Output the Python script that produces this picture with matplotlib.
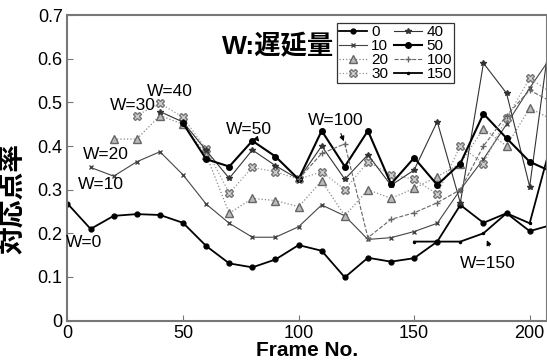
import numpy as np
import matplotlib
matplotlib.use("Agg")
import matplotlib.pyplot as plt

plt.rcParams["font.family"] = ["Liberation Sans", "Noto Sans CJK JP", "DejaVu Sans"]

# フレーム番号 (10 フレーム毎)。遅延量 W の系列は frame = W から始まる
frames = np.arange(0, 220, 10)

w0 = [0.268, 0.21, 0.24, 0.244, 0.242, 0.224, 0.171, 0.131, 0.122, 0.140, 0.173,
      0.160, 0.099, 0.144, 0.135, 0.143, 0.181, 0.265, 0.224, 0.246, 0.205, 0.22]
w10 = [0.351, 0.331, 0.364, 0.387, 0.334, 0.267, 0.223, 0.191, 0.191, 0.215, 0.265,
       0.24, 0.186, 0.19, 0.204, 0.223, 0.30, 0.37, 0.45, 0.533, 0.61]
w20 = [0.416, 0.416, 0.47, 0.45, 0.38, 0.246, 0.28, 0.275, 0.261, 0.32, 0.24,
       0.30, 0.28, 0.303, 0.33, 0.36, 0.44, 0.40, 0.487, 0.46]
w30 = [0.47, 0.498, 0.466, 0.393, 0.292, 0.351, 0.341, 0.324, 0.341, 0.30, 0.364,
       0.334, 0.324, 0.29, 0.40, 0.36, 0.464, 0.555, 0.52]
w40 = [0.479, 0.455, 0.39, 0.326, 0.391, 0.355, 0.324, 0.40, 0.324, 0.38, 0.31,
       0.345, 0.456, 0.27, 0.59, 0.521, 0.307, 0.70]
w50 = [0.452, 0.37, 0.353, 0.412, 0.376, 0.324, 0.435, 0.353, 0.435, 0.313, 0.373,
       0.311, 0.36, 0.474, 0.418, 0.364, 0.34]
w100 = [0.324, 0.383, 0.405, 0.19, 0.232, 0.247, 0.27, 0.30, 0.40, 0.47, 0.528, 0.50]
w150 = [0.181, 0.181, 0.181, 0.20, 0.246, 0.223, 0.42]

series = [
    ("0", 0, w0, dict(color="black", lw=1.3, marker="o", ms=3.5)),
    ("10", 10, w10, dict(color="#444444", lw=0.8, marker="x", ms=3.5)),
    ("20", 20, w20, dict(color="#888888", lw=0.9, ls=":", marker="^", ms=6,
                         mfc="#bbbbbb", mec="#666666")),
    ("30", 30, w30, dict(color="#999999", lw=0.9, ls=":", marker="X", ms=6,
                         mfc="#cccccc", mec="#777777")),
    ("40", 40, w40, dict(color="#333333", lw=0.8, marker="*", ms=4)),
    ("50", 50, w50, dict(color="black", lw=1.5, marker="o", ms=4)),
    ("100", 100, w100, dict(color="#666666", lw=0.8, ls="--", marker="+", ms=4)),
    ("150", 150, w150, dict(color="black", lw=1.3, marker=".", ms=3)),
]

fig = plt.figure(figsize=(5.47, 3.61), dpi=100)
ax = fig.add_axes([0.1234, 0.112, 0.8766, 0.846])

for label, start, vals, style in series:
    x = frames[start // 10: start // 10 + len(vals)]
    ax.plot(x, vals, label=label, **style)

ax.set_xlim(0, 207.5)
ax.set_ylim(0, 0.7)
ax.set_xticks([0, 50, 100, 150, 200])
ax.set_yticks(np.arange(0, 0.71, 0.1))
ax.set_yticklabels(["0", "0.1", "0.2", "0.3", "0.4", "0.5", "0.6", "0.7"])
ax.tick_params(direction="in", labelsize=13, length=4, color="#777777")
for s in ax.spines.values():
    s.set_color("#777777")
    s.set_linewidth(1.5)

ax.set_xlabel("Frame No.", fontsize=15, fontweight="bold")
ax.xaxis.set_label_coords(0.5, -0.068)
ax.set_ylabel("対応点率", fontsize=20, fontweight="bold")
ax.yaxis.set_label_coords(-0.085, 0.40)

ax.text(91, 0.627, "W:遅延量", fontsize=19, fontweight="bold", ha="center", va="center")

labels = [("W=0", 7.1, 0.178), ("W=10", 14.5, 0.311), ("W=20", 16.7, 0.38),
          ("W=30", 28.4, 0.492), ("W=40", 44.4, 0.526), ("W=150", 182, 0.13)]
for txt, lx, ly in labels:
    ax.text(lx, ly, txt, fontsize=12.5, ha="center", va="center")

ax.annotate("W=50", xy=(83, 0.41), xytext=(78.6, 0.437), fontsize=12.5,
            ha="center", va="center",
            arrowprops=dict(arrowstyle="-|>", color="black", lw=0.8, mutation_scale=7))
ax.annotate("W=100", xy=(120, 0.405), xytext=(116.2, 0.458), fontsize=12.5,
            ha="center", va="center",
            arrowprops=dict(arrowstyle="-|>", color="black", lw=0.8, mutation_scale=7))
ax.annotate("", xy=(181, 0.19), xytext=(183, 0.165),
            arrowprops=dict(arrowstyle="-|>", color="black", lw=0.8, mutation_scale=7))

leg = ax.legend(ncol=2, loc="upper left", bbox_to_anchor=(0.562, 0.975), fontsize=11,
                frameon=True, fancybox=False, edgecolor="black", borderpad=0.15,
                labelspacing=0.0, handlelength=1.8, handletextpad=0.3,
                columnspacing=0.4, borderaxespad=0)
leg.get_frame().set_linewidth(0.9)

fig.savefig("out.png", dpi=100)
